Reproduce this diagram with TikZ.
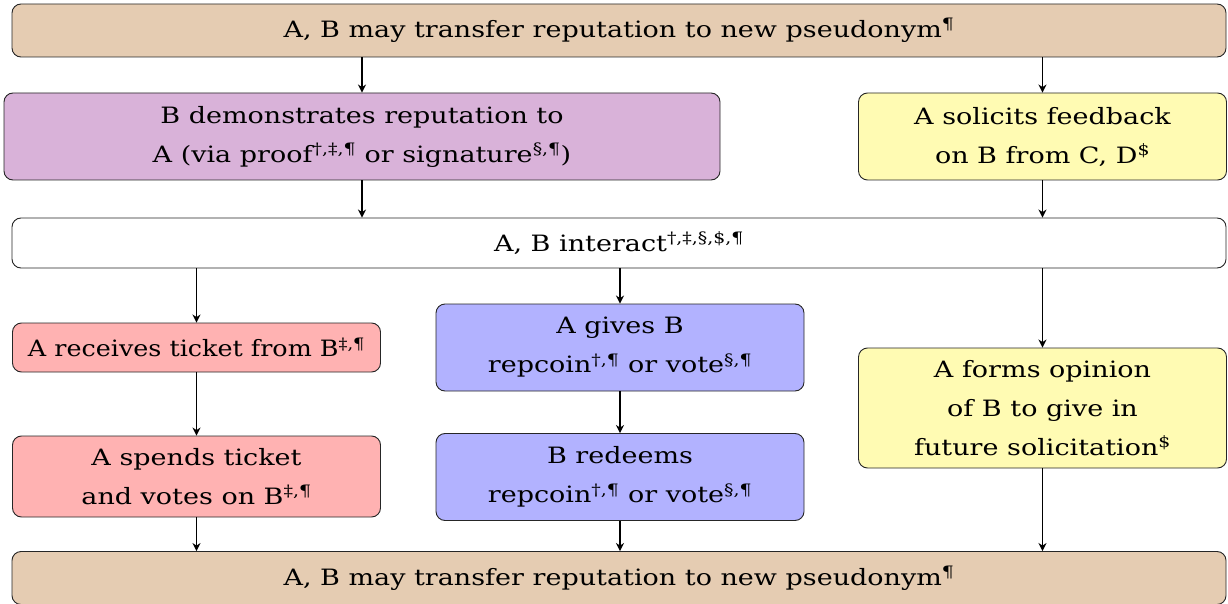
\documentclass[tikz,border=0pt]{standalone}
\usepackage{fontspec}
\setmainfont[FakeStretch=1.2]{DejaVu Serif}
\newfontfamily\narrowserif[FakeStretch=1.13]{DejaVu Serif}
\usetikzlibrary{arrows.meta}
\newcommand{\sups}[1]{\textsuperscript{#1}}
\begin{document}
\begin{tikzpicture}[x=1pt,y=-1pt,
  box/.style={draw=black!85, line width=0.9pt, rounded corners=9pt, align=center,
    inner sep=0pt, font=\fontsize{22.5}{39}\selectfont},
  wide/.style={box, minimum width=1214pt, minimum height=53pt},
  col/.style={box, minimum width=368pt},
  arr/.style={-{Stealth[length=8pt,width=8pt,inset=2.5pt]}, line width=1.3pt},
  ]
\useasboundingbox (0,0) rectangle (1228,604);

% rows of steps
\node[wide, fill=brown!40] (top) at (619,30.5)
  {A, B may transfer reputation to new pseudonym\sups{¶}};
\node[box, fill=violet!30, minimum width=716pt, minimum height=87pt] (demo) at (362,136.5)
  {B demonstrates reputation to\\A (via proof\sups{†,‡,¶} or signature\sups{§,¶})};
\node[col, fill=yellow!30, minimum height=87pt] (solicit) at (1042.5,136.5)
  {A solicits feedback\\on B from C, D\sups{\$}};
\node[wide, fill=white, minimum height=50pt] (interact) at (619,243)
  {A, B interact\sups{†,‡,§,\$,¶}};
\node[col, fill=red!30, minimum height=49pt] (ticket) at (196.5,347.5)
  {\narrowserif A receives ticket from B\sups{‡,¶}};
\node[col, fill=blue!30, minimum height=87pt] (gives) at (620,347.5)
  {A gives B\\repcoin\sups{†,¶} or vote\sups{§,¶}};
\node[col, fill=yellow!30, minimum height=120pt] (opinion) at (1042.5,408)
  {A forms opinion\\of B to give in\\future solicitation\sups{\$}};
\node[col, fill=red!30, minimum height=81pt] (spends) at (196.5,476.5)
  {A spends ticket\\and votes on B\sups{‡,¶}};
\node[col, fill=blue!30, minimum height=87pt] (redeems) at (620,477)
  {B redeems\\repcoin\sups{†,¶} or vote\sups{§,¶}};
\node[wide, fill=brown!40] (bottom) at (619,578)
  {A, B may transfer reputation to new pseudonym\sups{¶}};

% connectors
\draw[arr] (top.south -| demo.north) -- (demo.north);
\draw[arr] (top.south -| solicit.north) -- (solicit.north);
\draw[arr] (demo.south) -- (demo.south |- interact.north);
\draw[arr] (solicit.south) -- (solicit.south |- interact.north);
\draw[arr] (interact.south -| ticket.north) -- (ticket.north);
\draw[arr] (interact.south -| gives.north) -- (gives.north);
\draw[arr] (interact.south -| opinion.north) -- (opinion.north);
\draw[arr] (ticket.south) -- (spends.north);
\draw[arr] (gives.south) -- (redeems.north);
\draw[arr] (spends.south) -- (spends.south |- bottom.north);
\draw[arr] (redeems.south) -- (redeems.south |- bottom.north);
\draw[arr] (opinion.south) -- (opinion.south |- bottom.north);
\end{tikzpicture}
\end{document}
